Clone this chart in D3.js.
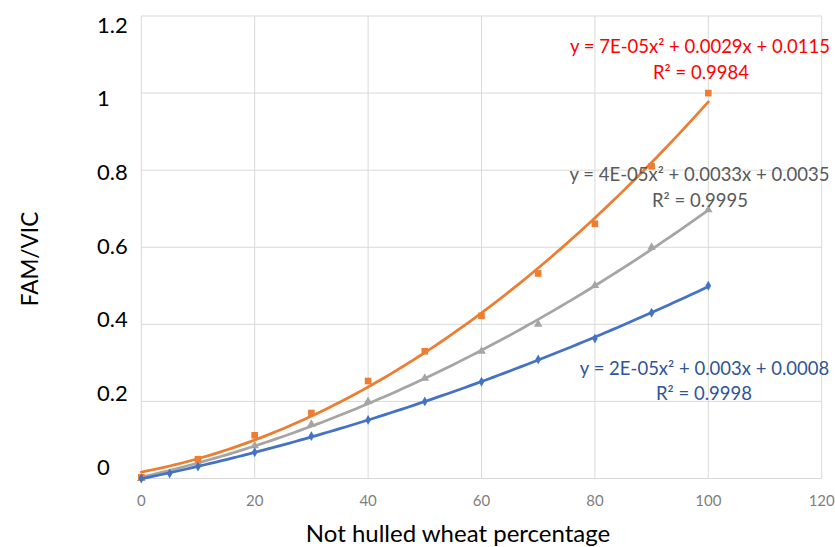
<!DOCTYPE html>
<html>
<head>
<meta charset="utf-8">
<script src="https://cdn.jsdelivr.net/npm/d3@7"></script>
<style>
  html, body { margin: 0; padding: 0; background: #fff; }
  svg { display: block; font-family: Lato, "Open Sans", sans-serif; }
</style>
</head>
<body>
<svg id="chart" width="835" height="547"></svg>
<script>
// ---- data ----
const blueX   = [0, 5, 10, 20, 30, 40, 50, 60, 70, 80, 90, 100];
const blueY   = [0.000, 0.013, 0.031, 0.068, 0.110, 0.152, 0.200, 0.251, 0.309, 0.363, 0.430, 0.500];
const orangeX = [0, 10, 20, 30, 40, 50, 60, 70, 80, 90, 100];
const orangeY = [0.003, 0.050, 0.112, 0.170, 0.253, 0.330, 0.422, 0.532, 0.661, 0.810, 1.000];
const grayX   = [0, 10, 20, 30, 40, 50, 60, 70, 80, 90, 100];
const grayY   = [0.000, 0.040, 0.085, 0.141, 0.200, 0.260, 0.330, 0.400, 0.501, 0.600, 0.697];
const xTicks  = [0, 20, 40, 60, 80, 100, 120];
const yTicks  = [0, 0.2, 0.4, 0.6, 0.8, 1, 1.2];
const eqRed   = ["y = 7E-05x² + 0.0029x + 0.0115", "R² = 0.9984"];
const eqGray  = ["y = 4E-05x² + 0.0033x + 0.0035", "R² = 0.9995"];
const eqBlue  = ["y = 2E-05x² + 0.003x + 0.0008", "R² = 0.9998"];
const xTitle  = "Not hulled wheat percentage";
const yTitle  = "FAM/VIC";

// ---- setup ----
const svg = d3.select("#chart");
const x = d3.scaleLinear().domain([0, 120]).range([141.3, 821.7]);
const y = d3.scaleLinear().domain([0, 1.2]).range([478.5, 16]);
const yLab = d3.scaleLinear().domain([0, 1.2]).range([466, 24]);

// gridlines
svg.append("g").selectAll("line.h").data(yTicks).join("line")
  .attr("x1", x(0)).attr("x2", x(120))
  .attr("y1", d => y(d)).attr("y2", d => y(d))
  .attr("stroke", "#d9d9d9").attr("stroke-width", 1);
svg.append("g").selectAll("line.v").data(xTicks).join("line")
  .attr("x1", d => x(d)).attr("x2", d => x(d))
  .attr("y1", y(0)).attr("y2", y(1.2))
  .attr("stroke", "#d9d9d9").attr("stroke-width", 1);

// x tick labels
svg.append("g").selectAll("text").data(xTicks).join("text")
  .attr("x", d => x(d)).attr("y", 500)
  .attr("text-anchor", "middle").attr("dominant-baseline", "central")
  .attr("font-size", 15).attr("fill", "#7f7f7f")
  .text(d => d);

// y tick labels
svg.append("g").selectAll("text").data(yTicks).join("text")
  .attr("x", 97).attr("y", d => yLab(d))
  .attr("text-anchor", "start").attr("dominant-baseline", "central")
  .attr("font-size", 22).attr("fill", "#000")
  .text(d => d3.format("~g")(d));

// titles
svg.append("text").attr("x", 458).attr("y", 532)
  .attr("text-anchor", "middle").attr("dominant-baseline", "central")
  .attr("font-size", 24).attr("fill", "#000").text(xTitle);
svg.append("text").attr("transform", "translate(29,259) rotate(-90)")
  .attr("text-anchor", "middle").attr("dominant-baseline", "central")
  .attr("font-size", 22.5).attr("fill", "#000").text(yTitle);

// least squares quadratic fit
function quadFit(xs, ys) {
  let n = xs.length, s = [0,0,0,0,0], t = [0,0,0];
  for (let i = 0; i < n; i++) {
    const xi = xs[i], yi = ys[i];
    for (let k = 0; k <= 4; k++) s[k] += Math.pow(xi, k);
    for (let k = 0; k <= 2; k++) t[k] += Math.pow(xi, k) * yi;
  }
  const A = [[s[0], s[1], s[2], t[0]], [s[1], s[2], s[3], t[1]], [s[2], s[3], s[4], t[2]]];
  for (let i = 0; i < 3; i++) {
    for (let j = i + 1; j < 3; j++) {
      const f = A[j][i] / A[i][i];
      for (let k = i; k < 4; k++) A[j][k] -= f * A[i][k];
    }
  }
  const c = [0,0,0];
  for (let i = 2; i >= 0; i--) {
    let v = A[i][3];
    for (let k = i + 1; k < 3; k++) v -= A[i][k] * c[k];
    c[i] = v / A[i][i];
  }
  return xv => c[0] + c[1] * xv + c[2] * xv * xv;
}

const series = [
  { xs: grayX, ys: grayY, color: "#a5a5a5", sym: d3.symbolTriangle, size: 32 },
  { xs: orangeX, ys: orangeY, color: "#ed7d31", sym: d3.symbolSquare, size: 44 },
  { xs: blueX, ys: blueY, color: "#4472c4", sym: d3.symbolDiamond, size: 28 }
];

const line = d3.line().x(d => x(d[0])).y(d => y(d[1]));
series.forEach(s => {
  const f = quadFit(s.xs, s.ys);
  const pts = d3.range(0, 100.01, 1).map(v => [v, f(v)]);
  svg.append("g").selectAll("path.m").data(s.xs.map((v, i) => [v, s.ys[i]])).join("path")
    .attr("transform", d => `translate(${x(d[0])},${y(d[1])})`)
    .attr("d", d3.symbol().type(s.sym).size(s.size))
    .attr("fill", s.color);
  svg.append("path").datum(pts).attr("d", line)
    .attr("fill", "none").attr("stroke", s.color).attr("stroke-width", 2.75)
    .attr("stroke-linecap", "round");
});

// equations
function eq(lines, cx, cy, color, cx2, cy2) {
  svg.append("text").attr("x", cx).attr("y", cy)
    .attr("text-anchor", "middle").attr("dominant-baseline", "central")
    .attr("font-size", 18.5).attr("fill", color).text(lines[0]);
  svg.append("text").attr("x", cx2).attr("y", cy2)
    .attr("text-anchor", "middle").attr("dominant-baseline", "central")
    .attr("font-size", 18.5).attr("fill", color).text(lines[1]);
}
eq(eqRed, 700, 46, "#ff0000", 701, 72);
eq(eqGray, 699.5, 174, "#595959", 700, 200);
eq(eqBlue, 704.5, 368, "#2f5597", 704, 393);
</script>
</body>
</html>
